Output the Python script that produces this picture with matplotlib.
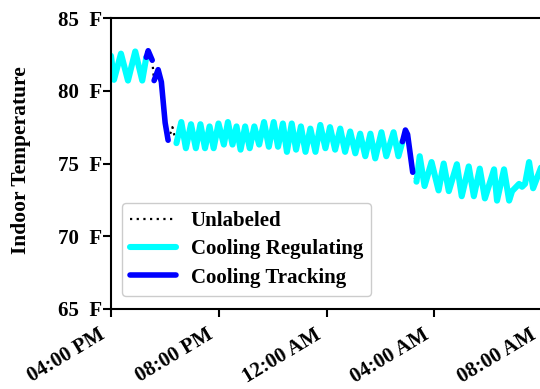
import matplotlib
matplotlib.use("Agg")
import matplotlib.pyplot as plt
import matplotlib.transforms as mtransforms
from matplotlib.ticker import FuncFormatter

# Hours after 04:00 PM, indoor temperature in F
reg1_h = [0.0, 0.11, 0.37, 0.63, 0.90, 1.16, 1.31]
reg1_t = [82.4, 80.75, 82.55, 80.7, 82.7, 80.7, 82.3]

trk1_h = [1.31, 1.38, 1.53]
trk1_t = [82.3, 82.75, 82.1]

unl1_h = [1.53, 1.57, 1.60]
unl1_t = [82.1, 81.3, 80.7]

trk2_h = [1.60, 1.75, 1.87, 2.01, 2.12]
trk2_t = [80.7, 81.45, 80.6, 77.8, 76.6]

unl2_h = [2.12, 2.28, 2.33, 2.43]
unl2_t = [76.6, 77.5, 77.1, 76.4]

reg2_h = [2.43, 2.61, 2.78, 2.97, 3.15, 3.32, 3.49, 3.66, 3.81, 3.99,
          4.19, 4.34, 4.51, 4.66, 4.81, 4.98, 5.15, 5.32, 5.50, 5.68,
          5.86, 6.04, 6.20, 6.38, 6.53, 6.71, 6.87, 7.05, 7.22, 7.40,
          7.59, 7.77, 7.96, 8.13, 8.32, 8.51, 8.69, 8.88, 9.07, 9.25,
          9.44, 9.63, 9.81, 10.04, 10.22, 10.49, 10.67, 10.82]
reg2_t = [76.4, 77.85, 76.05, 77.7, 76.05, 77.7, 76.05, 77.55, 76.05, 77.75,
          76.3, 77.85, 76.3, 77.55, 75.95, 77.55, 76.05, 77.55, 76.3, 77.85,
          76.15, 77.85, 76.15, 77.75, 75.8, 77.75, 75.95, 77.55, 75.8, 77.4,
          75.8, 77.65, 76.05, 77.5, 75.95, 77.4, 75.8, 77.2, 75.7, 77.05,
          75.5, 77.05, 75.35, 77.15, 75.5, 77.15, 75.5, 76.5]

trk3_h = [10.82, 10.93, 11.01, 11.20]
trk3_t = [76.5, 77.3, 77.0, 74.4]

unl3_h = [11.20, 11.33, 11.27, 11.34]
unl3_t = [74.4, 74.2, 73.9, 73.75]

reg3_h = [11.34, 11.46, 11.64, 11.90, 12.16, 12.35, 12.54, 12.84, 13.02, 13.28,
          13.47, 13.69, 13.88, 14.22, 14.33, 14.59, 14.78, 14.89, 15.15, 15.26,
          15.37, 15.52, 15.67, 16.0]
reg3_t = [73.75, 75.5, 73.45, 75.1, 73.15, 75.0, 73.1, 74.95, 72.75, 74.8,
          72.75, 74.65, 72.6, 74.6, 72.45, 74.6, 72.45, 73.1, 73.6, 73.4,
          73.6, 75.1, 73.3, 74.9]

x_ticks = [0, 4, 8, 12, 16]
x_labels = ["04:00 PM", "08:00 PM", "12:00 AM", "04:00 AM", "08:00 AM"]
y_ticks = [65, 70, 75, 80, 85]

serif = "Liberation Serif"
plt.rcParams["font.family"] = serif
plt.rcParams["font.weight"] = "bold"

fig = plt.figure(figsize=(5.4, 3.89), dpi=100)
ax = fig.add_axes([111 / 540, 80 / 389, 431 / 540, 291 / 389])

cyan = "#00ffff"
blue = "#0000ff"
lw_reg = 4.4
lw_trk = 4.0
dots = (0, (1, 2))

ax.plot(unl1_h, unl1_t, color="black", lw=1.6, ls=dots, label="Unlabeled")
ax.plot(unl2_h, unl2_t, color="black", lw=1.6, ls=dots)
ax.plot(unl3_h, unl3_t, color="black", lw=1.6, ls=dots)

style = dict(solid_joinstyle="round", solid_capstyle="round")
ax.plot(reg1_h, reg1_t, color=cyan, lw=lw_reg, label="Cooling Regulating", **style)
ax.plot(reg2_h, reg2_t, color=cyan, lw=lw_reg, **style)
ax.plot(reg3_h, reg3_t, color=cyan, lw=lw_reg, **style)

ax.plot(trk1_h, trk1_t, color=blue, lw=lw_trk, label="Cooling Tracking", **style)
ax.plot(trk2_h, trk2_t, color=blue, lw=lw_trk, **style)
ax.plot(trk3_h, trk3_t, color=blue, lw=lw_trk, **style)

ax.set_xlim(0, 16)
ax.set_ylim(65, 85)
ax.set_xticks(x_ticks)
ax.set_xticklabels(x_labels, rotation=31, ha="right")
ax.set_yticks(y_ticks)
ax.yaxis.set_major_formatter(FuncFormatter(lambda v, p: "%d  F" % v))
ax.tick_params(axis="both", labelsize=15, width=1.5, length=6, direction="out")
ax.tick_params(axis="x", pad=5.5)
ax.tick_params(axis="y", pad=0.5)
shift = mtransforms.ScaledTranslation(-2 / 100, 0, fig.dpi_scale_trans)
for lab in ax.get_xticklabels():
    lab.set_fontweight("bold")
    lab.set_transform(lab.get_transform() + shift)
for lab in ax.get_yticklabels():
    lab.set_fontweight("bold")

for sp in ax.spines.values():
    sp.set_linewidth(1.5)

ax.set_ylabel("Indoor Temperature", fontsize=15.5, fontweight="bold")
ax.yaxis.set_label_coords(-0.186, 0.51)

leg = ax.legend(loc="lower left", bbox_to_anchor=(0.025, 0.045), borderaxespad=0,
                prop={"family": serif, "weight": "bold", "size": 15},
                handlelength=2.2, handletextpad=0.7, framealpha=1,
                edgecolor="#cccccc", labelspacing=0.4)

fig.savefig("out.png", dpi=100)
